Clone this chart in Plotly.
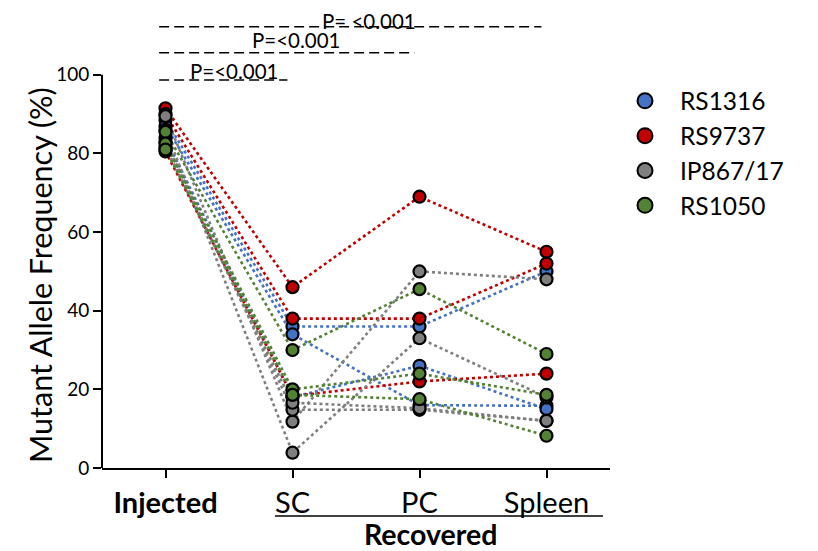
import plotly.graph_objects as go

categories = ["Injected", "SC", "PC", "Spleen"]
tick_labels = ["<b>Injected</b>", "SC", "PC", "Spleen"]
y_ticks = [0, 20, 40, 60, 80, 100]

strains = ["RS1316", "RS9737", "IP867/17", "RS1050"]
colors = {"RS1316": "#4472C4", "RS9737": "#C00000", "IP867/17": "#7F7F7F", "RS1050": "#548235"}

# each row: one sample, values at Injected, SC, PC, Spleen
rs1316 = [[88.5, 36.0, 36.0, 50.0],
          [87.0, 34.0, 16.0, 15.8],
          [84.0, 18.0, 26.0, 15.0]]
rs9737 = [[91.5, 46.0, 69.0, 55.0],
          [90.0, 38.0, 38.0, 52.0],
          [80.5, 18.3, 22.0, 24.0]]
ip867 = [[89.5, 11.8, 50.0, 48.0],
         [86.0, 3.9, 33.0, 18.0],
         [83.0, 14.8, 14.8, 12.0],
         [81.5, 16.6, 15.2, 12.0]]
rs1050 = [[85.5, 30.0, 45.5, 29.0],
          [82.5, 20.0, 24.0, 18.6],
          [81.0, 18.6, 17.5, 8.2]]

samples = {"RS1316": rs1316, "RS9737": rs9737, "IP867/17": ip867, "RS1050": rs1050}

sig_labels = ["P=<0.001", "P=<0.001", "P= <0.001"]
sig_targets = [1, 2, 3]

FONT = "Lato"
fig = go.Figure()

# lines first
for s in strains:
    for row in samples[s]:
        fig.add_trace(go.Scatter(x=categories, y=row, mode="lines",
                                 line=dict(color=colors[s], width=2.6, dash="dot"),
                                 showlegend=False, hoverinfo="skip"))
# markers on top
for s in strains:
    for row in samples[s]:
        fig.add_trace(go.Scatter(x=categories, y=row, mode="markers",
                                 marker=dict(color=colors[s], size=12,
                                             line=dict(color="black", width=2.2)),
                                 showlegend=False, cliponaxis=False))
# legend entries
for s in strains:
    fig.add_trace(go.Scatter(x=[None], y=[None], mode="markers", name=s,
                             marker=dict(color=colors[s], size=15,
                                         line=dict(color="black", width=2))))

shapes = []
annotations = []
# significance dashed brackets
sig_y = [98.7, 105.6, 112.2]
txt_y = [101.0, 108.8, 113.6]
txt_x = [0.54, 1.035, 1.606]
for i, t in enumerate(sig_targets):
    shapes.append(dict(type="line", xref="x", yref="y", x0=-0.05, x1=t - 0.04,
                       y0=sig_y[i], y1=sig_y[i],
                       line=dict(color="black", width=1.5, dash="10px,5px")))
    annotations.append(dict(xref="x", yref="y", x=txt_x[i], y=txt_y[i],
                            text=sig_labels[i], showarrow=False,
                            font=dict(family=FONT, size=20.5, color="black"),
                            xanchor="center", yanchor="middle", borderpad=0))

# y axis line from 0 to 100
shapes.append(dict(type="line", xref="paper", yref="y", x0=0, x1=0, y0=0, y1=100,
                   line=dict(color="black", width=2)))
# Recovered underline
shapes.append(dict(type="line", xref="paper", yref="paper", x0=0.3406, x1=0.986,
                   y0=-0.1043, y1=-0.1043, line=dict(color="black", width=1.5)))
annotations.append(dict(xref="paper", yref="paper", x=0.6457, y=-0.1435,
                        text="<b>Recovered</b>", showarrow=False,
                        font=dict(family=FONT, size=28.5, color="black"),
                        xanchor="center", yanchor="middle", borderpad=0))
annotations.append(dict(xref="paper", yref="paper", x=-0.122, y=0.4196,
                        text="Mutant Allele Frequency (%)", textangle=-90, showarrow=False,
                        font=dict(family=FONT, size=30.5, color="black"),
                        xanchor="center", yanchor="middle"))

fig.update_layout(
    width=810, height=543,
    margin=dict(l=94, r=208, t=0, b=83, autoexpand=False),
    paper_bgcolor="white", plot_bgcolor="white",
    font=dict(family=FONT, color="black"),
    xaxis=dict(range=[-0.5, 3.5], tickmode="array", tickvals=categories, ticktext=tick_labels,
               showline=True, linecolor="black", linewidth=2, ticks="outside",
               ticklen=8, tickwidth=2, tickcolor="black",
               tickfont=dict(family=FONT, size=29, color="black"),
               showgrid=False, zeroline=False, automargin=False),
    yaxis=dict(range=[0, 117], tickmode="array", tickvals=y_ticks,
               showline=False, ticks="outside", ticklen=8, tickwidth=2, tickcolor="black",
               tickfont=dict(family=FONT, size=19, color="black"),
               showgrid=False, zeroline=False, automargin=False),
    legend=dict(x=1.0, y=0.847, xanchor="left", yanchor="top",
                font=dict(family=FONT, size=24.5, color="black"),
                bgcolor="rgba(0,0,0,0)", itemwidth=60, tracegroupgap=0),
    shapes=shapes, annotations=annotations,
    showlegend=True,
)

fig.write_html("out.html")
